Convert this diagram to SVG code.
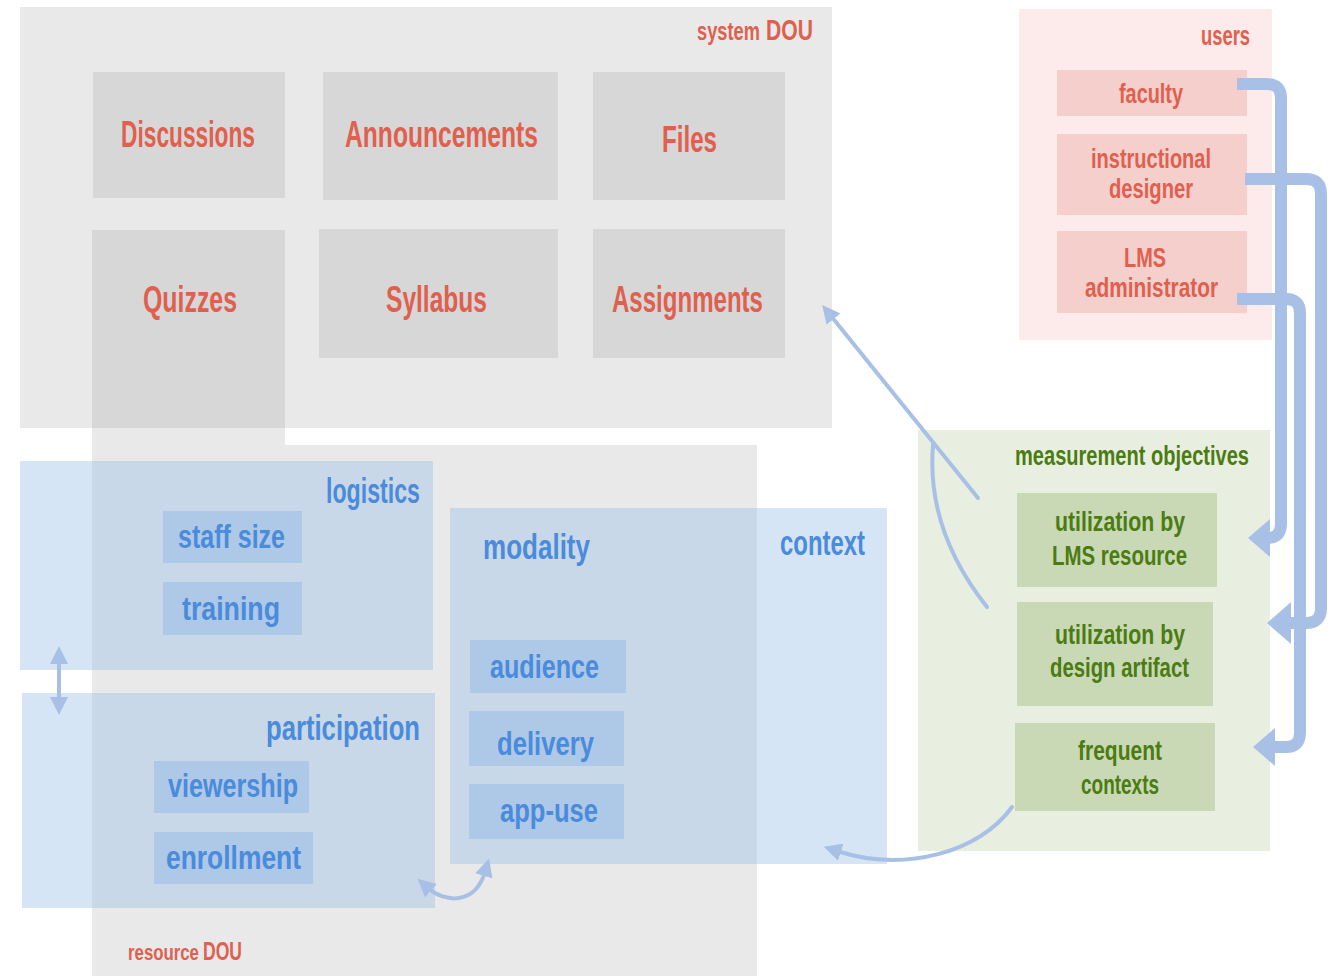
<svg xmlns="http://www.w3.org/2000/svg" width="1335" height="976" viewBox="0 0 1335 976">
  <style>
    text { font-family: "Liberation Sans", Arial, sans-serif; font-weight: bold; }
    .red { fill: #e0604f; }
    .blue { fill: #4a8bdb; }
    .green { fill: #4b7c12; }
    .gray-bg { fill: #e9e9e9; }
    .gray-box { fill: #d7d7d7; }
    .pink-bg { fill: #fcebea; }
    .pink-box { fill: #f5cfcc; }
    .green-bg { fill: #e8efe1; }
    .green-box { fill: #c9d9b6; }
    .blue-bg { fill: #98bee9; fill-opacity: 0.4; }
    .blue-box { fill: #8fb5e4; fill-opacity: 0.45; }
    .thick { fill: none; stroke: #a9c0e6; stroke-width: 12; stroke-linejoin: round; }
    .thin { fill: none; stroke: #a9c0e6; stroke-width: 4; stroke-linecap: round; }
  </style>
  <defs>
    <marker id="bigHead" markerUnits="userSpaceOnUse" markerWidth="22" markerHeight="38" viewBox="0 0 22 38" refX="4" refY="19" orient="auto">
      <path d="M0,0 L22,19 L0,38 z" fill="#a9c0e6"/>
    </marker>
    <marker id="bigHeadWide" markerUnits="userSpaceOnUse" markerWidth="24" markerHeight="42" viewBox="0 0 24 42" refX="4" refY="21" orient="auto">
      <path d="M0,0 L24,21 L0,42 z" fill="#a9c0e6"/>
    </marker>
    <marker id="thinHead" markerUnits="userSpaceOnUse" markerWidth="18" markerHeight="18" viewBox="0 0 18 18" refX="4" refY="9" orient="auto-start-reverse">
      <path d="M0,0 L18,9 L0,18 z" fill="#a9c0e6"/>
    </marker>
  </defs>

  <rect width="1335" height="976" fill="#ffffff"/>

  <!-- resource DOU region (L-shape under the Quizzes column) -->
  <g id="resource-dou">
    <polygon class="gray-bg" points="92,230 285,230 285,445 757,445 757,976 92,976"/>
    <text transform="translate(128,960) scale(0.764,1)" class="red" font-size="22">resource</text>
    <text transform="translate(203,960) scale(0.675,1)" class="red" font-size="26">DOU</text>
  </g>

  <!-- system DOU -->
  <g id="system-dou">
    <rect class="gray-bg" x="20" y="7" width="812" height="421"/>
    <text transform="translate(697,40) scale(0.73,1)" class="red" font-size="25">system</text>
    <text transform="translate(766,40) scale(0.705,1)" class="red" font-size="30">DOU</text>
  </g>

  <g id="discussions">
    <rect class="gray-box" x="93" y="72" width="192" height="126"/>
    <text x="121" y="147" class="red" font-size="37" textLength="134" lengthAdjust="spacingAndGlyphs">Discussions</text>
  </g>
  <g id="announcements">
    <rect class="gray-box" x="323" y="72" width="235" height="128"/>
    <text x="345" y="147" class="red" font-size="37" textLength="193" lengthAdjust="spacingAndGlyphs">Announcements</text>
  </g>
  <g id="files">
    <rect class="gray-box" x="593" y="72" width="192" height="128"/>
    <text x="662" y="152" class="red" font-size="37" textLength="55" lengthAdjust="spacingAndGlyphs">Files</text>
  </g>
  <g id="quizzes">
    <rect class="gray-box" x="92" y="230" width="193" height="198"/>
    <text x="143" y="312" class="red" font-size="37" textLength="94" lengthAdjust="spacingAndGlyphs">Quizzes</text>
  </g>
  <g id="syllabus">
    <rect class="gray-box" x="319" y="229" width="239" height="129"/>
    <text x="386" y="312" class="red" font-size="37" textLength="101" lengthAdjust="spacingAndGlyphs">Syllabus</text>
  </g>
  <g id="assignments">
    <rect class="gray-box" x="593" y="229" width="192" height="129"/>
    <text x="612" y="312" class="red" font-size="37" textLength="151" lengthAdjust="spacingAndGlyphs">Assignments</text>
  </g>

  <!-- users -->
  <g id="users">
    <rect class="pink-bg" x="1019" y="9" width="253" height="331"/>
    <text x="1201" y="45" class="red" font-size="28" textLength="49" lengthAdjust="spacingAndGlyphs">users</text>
  </g>
  <g id="faculty">
    <rect class="pink-box" x="1057" y="70" width="190" height="46"/>
    <text x="1119" y="103" class="red" font-size="28" textLength="64" lengthAdjust="spacingAndGlyphs">faculty</text>
  </g>
  <g id="instructional-designer">
    <rect class="pink-box" x="1057" y="134" width="190" height="81"/>
    <text x="1091" y="168" class="red" font-size="28" textLength="120" lengthAdjust="spacingAndGlyphs">instructional</text>
    <text x="1109" y="198" class="red" font-size="28" textLength="84" lengthAdjust="spacingAndGlyphs">designer</text>
  </g>
  <g id="lms-administrator">
    <rect class="pink-box" x="1057" y="231" width="190" height="82"/>
    <text x="1124" y="267" class="red" font-size="28" textLength="42" lengthAdjust="spacingAndGlyphs">LMS</text>
    <text x="1085" y="297" class="red" font-size="28" textLength="133" lengthAdjust="spacingAndGlyphs">administrator</text>
  </g>

  <!-- measurement objectives -->
  <g id="measurement-objectives">
    <rect class="green-bg" x="918" y="430" width="352" height="421"/>
    <text x="1015" y="465" class="green" font-size="27" textLength="234" lengthAdjust="spacingAndGlyphs">measurement objectives</text>
  </g>
  <g id="utilization-lms-resource">
    <rect class="green-box" x="1017" y="493" width="200" height="94"/>
    <text x="1055" y="531" class="green" font-size="28" textLength="130" lengthAdjust="spacingAndGlyphs">utilization by</text>
    <text x="1052" y="565" class="green" font-size="28" textLength="135" lengthAdjust="spacingAndGlyphs">LMS  resource</text>
  </g>
  <g id="utilization-design-artifact">
    <rect class="green-box" x="1017" y="602" width="196" height="104"/>
    <text x="1055" y="644" class="green" font-size="28" textLength="130" lengthAdjust="spacingAndGlyphs">utilization by</text>
    <text x="1050" y="677" class="green" font-size="28" textLength="139" lengthAdjust="spacingAndGlyphs">design artifact</text>
  </g>
  <g id="frequent-contexts">
    <rect class="green-box" x="1015" y="723" width="200" height="88"/>
    <text x="1078" y="760" class="green" font-size="28" textLength="84" lengthAdjust="spacingAndGlyphs">frequent</text>
    <text x="1081" y="794" class="green" font-size="28" textLength="78" lengthAdjust="spacingAndGlyphs">contexts</text>
  </g>

  <!-- logistics -->
  <g id="logistics">
    <rect class="blue-bg" x="20" y="461" width="413" height="209"/>
    <text x="326" y="503" class="blue" font-size="35" textLength="94" lengthAdjust="spacingAndGlyphs">logistics</text>
  </g>
  <g id="staff-size">
    <rect class="blue-box" x="163" y="511" width="139" height="52"/>
    <text x="178" y="548" class="blue" font-size="33" textLength="107" lengthAdjust="spacingAndGlyphs">staff size</text>
  </g>
  <g id="training">
    <rect class="blue-box" x="163" y="582" width="139" height="53"/>
    <text x="182" y="620" class="blue" font-size="33" textLength="98" lengthAdjust="spacingAndGlyphs">training</text>
  </g>

  <!-- participation -->
  <g id="participation">
    <rect class="blue-bg" x="22" y="693" width="413" height="215"/>
    <text x="266" y="740" class="blue" font-size="35" textLength="154" lengthAdjust="spacingAndGlyphs">participation</text>
  </g>
  <g id="viewership">
    <rect class="blue-box" x="154" y="761" width="155" height="52"/>
    <text x="168" y="797" class="blue" font-size="33" textLength="130" lengthAdjust="spacingAndGlyphs">viewership</text>
  </g>
  <g id="enrollment">
    <rect class="blue-box" x="154" y="832" width="159" height="52"/>
    <text x="166" y="869" class="blue" font-size="33" textLength="135" lengthAdjust="spacingAndGlyphs">enrollment</text>
  </g>

  <!-- context / modality -->
  <g id="context">
    <rect class="blue-bg" x="450" y="508" width="437" height="356"/>
    <text x="780" y="555" class="blue" font-size="35" textLength="85" lengthAdjust="spacingAndGlyphs">context</text>
    <text x="483" y="559" class="blue" font-size="35" textLength="107" lengthAdjust="spacingAndGlyphs">modality</text>
  </g>
  <g id="audience">
    <rect class="blue-box" x="470" y="640" width="156" height="53"/>
    <text x="490" y="678" class="blue" font-size="33" textLength="109" lengthAdjust="spacingAndGlyphs">audience</text>
  </g>
  <g id="delivery">
    <rect class="blue-box" x="469" y="711" width="155" height="55"/>
    <text x="497" y="755" class="blue" font-size="33" textLength="97" lengthAdjust="spacingAndGlyphs">delivery</text>
  </g>
  <g id="app-use">
    <rect class="blue-box" x="469" y="784" width="155" height="55"/>
    <text x="500" y="822" class="blue" font-size="33" textLength="98" lengthAdjust="spacingAndGlyphs">app-use</text>
  </g>

  <!-- connectors -->
  <g id="connectors">
    <!-- users to measurement objectives -->
    <path class="thick" marker-end="url(#bigHead)" d="M1237,84 H1267 Q1281,84 1281,98 V524 Q1281,538 1267,538 H1266"/>
    <path class="thick" marker-end="url(#bigHeadWide)" d="M1245,179 H1306 Q1321,179 1321,194 V608 Q1321,623 1306,623 H1287"/>
    <path class="thick" marker-end="url(#bigHead)" d="M1237,299 H1286 Q1300,299 1300,313 V733 Q1300,747 1286,747 H1271"/>

    <!-- objectives back into the system DOU -->
    <path class="thin" marker-end="url(#thinHead)" d="M978,498 L831,316"/>
    <path class="thin" d="M987,607 Q926,530 933,445"/>

    <!-- frequent contexts to context -->
    <path class="thin" marker-end="url(#thinHead)" d="M1012,807 C980,852 905,873 837,851"/>

    <!-- participation and context -->
    <path class="thin" marker-start="url(#thinHead)" marker-end="url(#thinHead)" d="M428,888 C445,903 475,905 485,872"/>

    <!-- logistics and participation -->
    <path class="thin" marker-start="url(#thinHead)" marker-end="url(#thinHead)" d="M59,660 V701"/>
  </g>
</svg>
